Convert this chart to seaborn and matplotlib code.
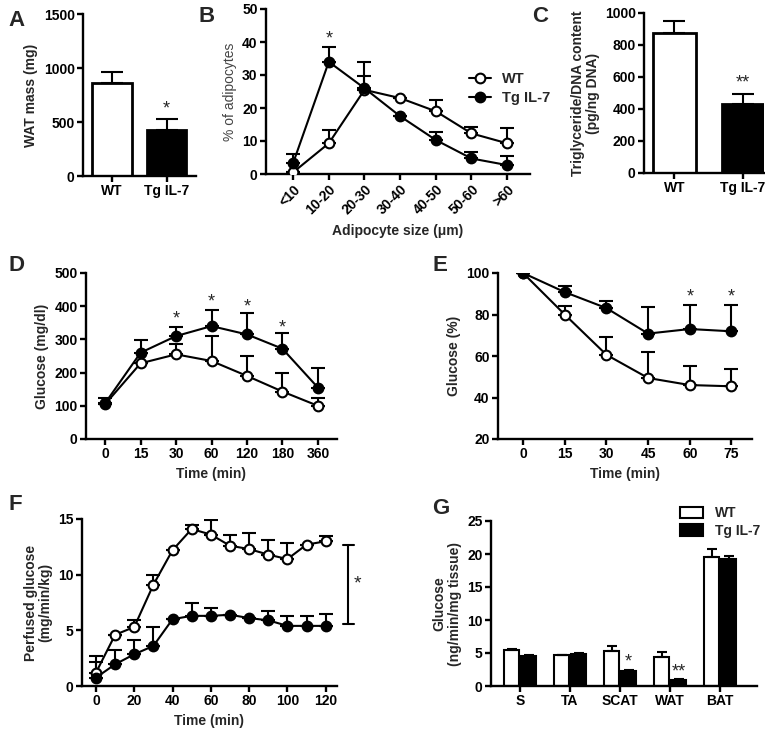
import numpy as np
import pandas as pd
import matplotlib
matplotlib.use("Agg")
import matplotlib.pyplot as plt
from matplotlib.patches import Patch
from matplotlib.lines import Line2D
import seaborn as sns

# ---------------- data ----------------
genotypes = ["WT", "Tg IL-7"]

# A - WAT mass
A_mean = [865, 425]
A_sem = [100, 100]

# B - adipocyte size distribution
B_sizes = ["<10", "10-20", "20-30", "30-40", "40-50", "50-60", ">60"]
B_wt = [0.5, 9.3, 25.5, 23.0, 19.0, 12.3, 9.3]
B_wt_sem = [0.0, 4.0, 4.3, 0.0, 3.3, 2.0, 4.7]
B_tg = [3.3, 34.0, 26.0, 17.5, 10.3, 4.7, 2.7]
B_tg_sem = [2.7, 4.5, 8.0, 0.0, 2.5, 2.0, 2.8]

# C - triglyceride / DNA
C_mean = [875, 430]
C_sem = [75, 65]

# D - glucose tolerance
D_times = ["0", "15", "30", "60", "120", "180", "360"]
D_wt = [105, 228, 255, 235, 190, 143, 100]
D_wt_sem = [0, 0, 30, 75, 60, 57, 25]
D_tg = [108, 260, 310, 340, 315, 272, 155]
D_tg_sem = [14, 38, 27, 50, 65, 46, 60]

# E - insulin tolerance
E_times = [0, 15, 30, 45, 60, 75]
E_wt = [100, 80.0, 60.6, 49.4, 46.0, 45.4]
E_wt_sem = [0, 4.0, 8.4, 12.6, 9.0, 8.3]
E_tg = [100, 90.8, 83.1, 70.8, 73.0, 71.9]
E_tg_sem = [0, 3.1, 3.2, 12.7, 11.4, 12.5]

# F - perfused glucose (clamp)
F_times = [0, 10, 20, 30, 40, 50, 60, 70, 80, 90, 100, 110, 120]
F_wt = [1.2, 4.6, 5.3, 9.1, 12.2, 14.1, 13.6, 12.6, 12.3, 11.8, 11.4, 12.7, 13.0]
F_wt_sem = [1.5, 0, 0.6, 0.9, 0, 0.4, 1.3, 1.0, 1.4, 1.3, 1.4, 0, 0.5]
F_tg = [0.75, 1.95, 2.85, 3.6, 6.0, 6.3, 6.3, 6.4, 6.1, 5.9, 5.4, 5.4, 5.4]
F_tg_sem = [1.4, 1.25, 1.25, 1.7, 0, 1.2, 0.7, 0, 0, 0.8, 0.9, 0.9, 1.1]
F_bracket = [5.6, 12.7]

# G - tissue glucose uptake
G_tissues = ["S", "TA", "SCAT", "WAT", "BAT"]
G_wt = [5.4, 4.7, 5.3, 4.4, 19.6]
G_wt_sem = [0.15, 0.05, 0.7, 0.7, 1.1]
G_tg = [4.5, 4.9, 2.2, 0.9, 19.2]
G_tg_sem = [0.2, 0.1, 0.3, 0.15, 0.55]

# ---------------- style ----------------
sns.set_style("ticks")
plt.rcParams["font.family"] = ["Liberation Sans", "DejaVu Sans"]
plt.rcParams["font.weight"] = "bold"
plt.rcParams["axes.labelweight"] = "bold"
plt.rcParams["axes.linewidth"] = 1.7
plt.rcParams["xtick.major.width"] = 1.7
plt.rcParams["ytick.major.width"] = 1.7
plt.rcParams["xtick.major.size"] = 4
plt.rcParams["ytick.major.size"] = 4
plt.rcParams["xtick.labelsize"] = 10
plt.rcParams["ytick.labelsize"] = 10
plt.rcParams["axes.labelsize"] = 10
plt.rcParams["xtick.color"] = "black"
plt.rcParams["ytick.color"] = "black"
plt.rcParams["axes.edgecolor"] = "black"

W, H = 765, 739
fig = plt.figure(figsize=(W / 100, H / 100), dpi=100)


def box(l, r, t, b):
    return [l / W, 1 - b / H, (r - l) / W, (b - t) / H]


def clean(ax):
    sns.despine(ax=ax)
    ax.tick_params(direction="out", pad=2)


def star(ax, x, y, s="*", size=13):
    ax.text(x, y, s, ha="center", va="center", fontsize=size, fontweight="normal")


def up_err(ax, x, y, e, cap=5):
    ax.errorbar(x, y, yerr=[np.zeros(len(e)), e], fmt="none", ecolor="black",
                elinewidth=1.5, capsize=cap, capthick=1.5, zorder=1)


def line_pair(ax, x, wt, wt_e, tg, tg_e, ms=7):
    up_err(ax, x, wt, wt_e)
    up_err(ax, x, tg, tg_e)
    sns.lineplot(x=x, y=wt, ax=ax, color="black", lw=1.5, marker="o", markersize=ms,
                 markerfacecolor="white", markeredgecolor="black", markeredgewidth=1.5,
                 zorder=3, sort=False)
    sns.lineplot(x=x, y=tg, ax=ax, color="black", lw=1.5, marker="o", markersize=ms,
                 markerfacecolor="black", markeredgecolor="black", markeredgewidth=1.5,
                 zorder=3, sort=False)


def two_bars(ax, mean, sem, width):
    df = pd.DataFrame({"g": genotypes, "v": mean})
    sns.barplot(data=df, x="g", y="v", hue="g", palette={"WT": "white", "Tg IL-7": "black"},
                edgecolor="black", linewidth=2, width=width, legend=False, ax=ax)
    bars = [p for p in ax.patches]
    xs = [p.get_x() + p.get_width() / 2 for p in bars]
    hs = [p.get_height() for p in bars]
    order = np.argsort(xs)
    up_err(ax, np.array(xs)[order], np.array(hs)[order], np.array(sem), cap=8)


def letter(x, y, s):
    fig.text(x / W, 1 - y / H, s, fontsize=16, fontweight="bold", ha="left", va="center")


# ---------------- A ----------------
axA = fig.add_axes(box(83, 196, 14, 176))
two_bars(axA, A_mean, A_sem, 0.72)
axA.set_xlim(-0.53, 1.54)
axA.set_ylim(0, 1500)
axA.set_yticks([0, 500, 1000, 1500])
axA.set_xlabel("")
axA.set_ylabel("WAT mass (mg)", labelpad=4)
clean(axA)
star(axA, 1, 625)
letter(8, 20, "A")

# ---------------- B ----------------
axB = fig.add_axes(box(266, 530, 9, 174))
bx = np.arange(len(B_sizes))
line_pair(axB, bx, B_wt, B_wt_sem, B_tg, B_tg_sem)
axB.set_xlim(-0.76, 6.64)
axB.set_ylim(0, 50)
axB.set_yticks([0, 10, 20, 30, 40, 50])
axB.set_xticks(bx)
axB.set_xticklabels(B_sizes, rotation=45, ha="right", rotation_mode="anchor")
axB.set_xlabel("Adipocyte size (\u03bcm)", labelpad=5)
axB.set_ylabel("% of adipocytes", fontweight="normal", color="#444444", labelpad=4)
clean(axB)
star(axB, 1, 41)
handles = [
    Line2D([], [], color="black", lw=1.5, marker="o", markersize=7,
           markerfacecolor="white", markeredgewidth=1.5, label="WT"),
    Line2D([], [], color="black", lw=1.5, marker="o", markersize=7,
           markerfacecolor="black", markeredgewidth=1.5, label="Tg IL-7"),
]
axB.legend(handles=handles, loc="upper left", bbox_to_anchor=(0.74, 0.66),
           frameon=False, fontsize=10.5, handlelength=1.5, handletextpad=0.8,
           labelspacing=0.3, borderpad=0)
letter(198, 17, "B")

# ---------------- C ----------------
axC = fig.add_axes(box(644, 764, 13, 173))
two_bars(axC, C_mean, C_sem, 0.62)
axC.set_xlim(-0.445, 1.31)
axC.set_ylim(0, 1000)
axC.set_yticks([0, 200, 400, 600, 800, 1000])
axC.set_xlabel("")
axC.set_ylabel("Triglyceride/DNA content\n(pg/ng DNA)", labelpad=3, linespacing=1.1)
clean(axC)
star(axC, 1, 565, "**")
letter(532, 17, "C")

# ---------------- D ----------------
axD = fig.add_axes(box(86, 337, 273, 439))
dx = np.arange(len(D_times))
line_pair(axD, dx, D_wt, D_wt_sem, D_tg, D_tg_sem)
axD.set_xlim(-0.54, 6.54)
axD.set_ylim(0, 500)
axD.set_yticks([0, 100, 200, 300, 400, 500])
axD.set_xticks(dx)
axD.set_xticklabels(D_times)
axD.set_xlabel("Time (min)", labelpad=4)
axD.set_ylabel("Glucose (mg/dl)", labelpad=4)
clean(axD)
for i, v in [(2, 360), (3, 412), (4, 398), (5, 335)]:
    star(axD, i, v)
letter(8, 266, "D")

# ---------------- E ----------------
axE = fig.add_axes(box(498, 752, 273, 439))
line_pair(axE, np.array(E_times), E_wt, E_wt_sem, E_tg, E_tg_sem)
axE.set_xlim(-9, 82.4)
axE.set_ylim(20, 100)
axE.set_yticks([20, 40, 60, 80, 100])
axE.set_xticks(E_times)
axE.set_xlabel("Time (min)", labelpad=4)
axE.set_ylabel("Glucose (%)", labelpad=4)
clean(axE)
for t in [60, 75]:
    star(axE, t, 88.5)
letter(432, 266, "E")

# ---------------- F ----------------
axF = fig.add_axes(box(82, 337, 519, 686))
line_pair(axF, np.array(F_times), F_wt, F_wt_sem, F_tg, F_tg_sem)
axF.set_xlim(-7.3, 125.9)
axF.set_ylim(0, 15)
axF.set_yticks([0, 5, 10, 15])
axF.set_xticks(range(0, 121, 20))
axF.set_xlabel("Time (min)", labelpad=4)
axF.set_ylabel("Perfused glucose\n(mg/min/kg)", labelpad=4, linespacing=1.1)
clean(axF)
bxF = 131.5
axF.plot([bxF, bxF], F_bracket, color="black", lw=1.5, clip_on=False)
for yv in F_bracket:
    axF.plot([bxF - 2.5, bxF + 3.5], [yv, yv], color="black", lw=1.5, clip_on=False)
axF.text(bxF + 5, np.mean(F_bracket), "*", ha="center", va="center", fontsize=14,
         fontweight="normal")
letter(8, 505, "F")

# ---------------- G ----------------
axG = fig.add_axes(box(491, 757, 521, 686))
dfG = pd.DataFrame({
    "tissue": G_tissues * 2,
    "geno": ["WT"] * len(G_tissues) + ["Tg IL-7"] * len(G_tissues),
    "val": G_wt + G_tg,
})
sns.barplot(data=dfG, x="tissue", y="val", hue="geno", hue_order=genotypes,
            palette={"WT": "white", "Tg IL-7": "black"}, edgecolor="black",
            linewidth=1.5, width=0.68, gap=0.15, legend=False, ax=axG)
for cont, sem in zip(axG.containers, [G_wt_sem, G_tg_sem]):
    xs = [p.get_x() + p.get_width() / 2 for p in cont]
    hs = [p.get_height() for p in cont]
    up_err(axG, xs, hs, sem, cap=3.5)
axG.set_xlim(-0.58, 4.74)
axG.set_ylim(0, 25)
axG.set_yticks([0, 5, 10, 15, 20, 25])
axG.set_xlabel("")
axG.set_ylabel("Glucose\n(ng/min/mg tissue)", labelpad=4, linespacing=1.1)
clean(axG)
star(axG, 2.17, 3.6)
star(axG, 3.17, 2.1, "**")
gh = [Patch(facecolor="white", edgecolor="black", lw=1.5, label="WT"),
      Patch(facecolor="black", edgecolor="black", lw=1.5, label="Tg IL-7")]
axG.legend(handles=gh, loc="upper left", bbox_to_anchor=(0.684, 1.13), frameon=False,
           fontsize=10, handlelength=1.7, handleheight=0.9, handletextpad=0.8,
           labelspacing=0.25, borderpad=0)
letter(432, 508, "G")

fig.savefig("out.png", dpi=100)
